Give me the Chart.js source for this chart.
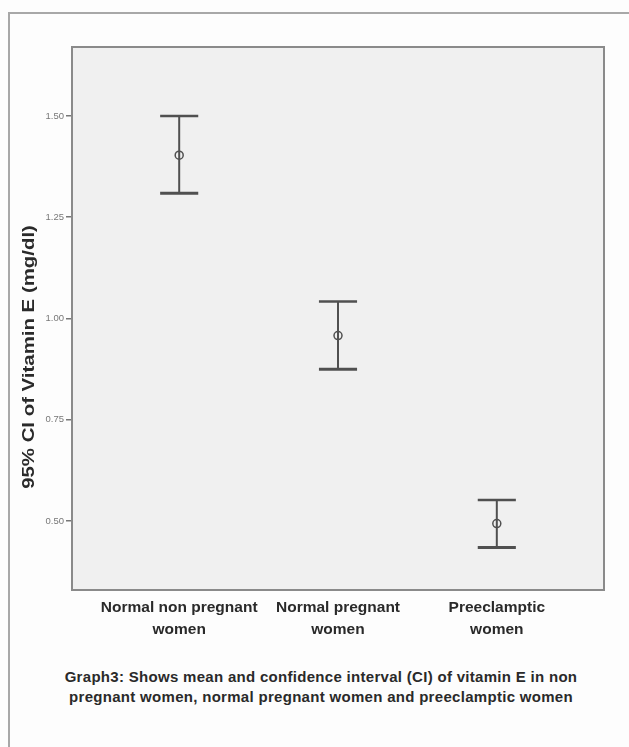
<!DOCTYPE html>
<html>
<head>
<meta charset="utf-8">
<script src="https://cdn.jsdelivr.net/npm/chart.js@4/dist/chart.umd.min.js"></script>
<style>
  html, body { margin: 0; padding: 0; background: #fdfdfd; width: 629px; height: 747px; overflow: hidden; }
  #frame { position: absolute; left: 8px; top: 12px; width: 640px; height: 760px;
           border-left: 2px solid #a8a8a8; border-top: 2px solid #a8a8a8; box-sizing: border-box; }
  #wrap { position: absolute; left: 0; top: 0; width: 629px; height: 650px; }
  #caption { position: absolute; left: 0; top: 667px; width: 642px; text-align: center;
             font-family: "Liberation Sans", Arial, sans-serif; font-weight: bold; font-size: 15px;
             line-height: 20px; color: #2a2a2a; letter-spacing: 0.3px; }
</style>
</head>
<body>
<div id="frame"></div>
<div id="wrap"><canvas id="c"></canvas></div>
<div id="caption">Graph3: Shows mean and confidence interval (CI) of vitamin E in non<br>pregnant women, normal pregnant women and preeclamptic women</div>
<script>
// ---- data ----
const categories = [["Normal non pregnant", "women"], ["Normal pregnant", "women"], ["Preeclamptic", "women"]];
const means = [1.403, 0.958, 0.494];
const lowerCI = [1.309, 0.875, 0.435];
const upperCI = [1.500, 1.042, 0.552];
const yTicks = [0.50, 0.75, 1.00, 1.25, 1.50];
const yTitle = "95% CI of Vitamin E (mg/dl)";

const barColor = "#505050";
const capHalf = 0.12;

const datasets = [];
categories.forEach((c, i) => {
  datasets.push({ data: [{x: i, y: lowerCI[i]}, {x: i, y: upperCI[i]}], showLine: true, borderColor: barColor, borderWidth: 2, pointRadius: 0 });
  datasets.push({ data: [{x: i - capHalf, y: upperCI[i]}, {x: i + capHalf, y: upperCI[i]}], showLine: true, borderColor: barColor, borderWidth: 2.5, pointRadius: 0 });
  datasets.push({ data: [{x: i - capHalf, y: lowerCI[i]}, {x: i + capHalf, y: lowerCI[i]}], showLine: true, borderColor: barColor, borderWidth: 3, pointRadius: 0 });
});
datasets.push({ data: means.map((m, i) => ({x: i, y: m})), showLine: false, pointRadius: 4, pointBorderWidth: 1.5,
  pointBorderColor: barColor, pointBackgroundColor: "#f0f0f0", pointStyle: "circle" });

const areaPlugin = {
  id: "area",
  beforeDatasetsDraw(chart) {
    const {ctx, chartArea: a} = chart;
    ctx.save();
    ctx.fillStyle = "#f0f0f0";
    ctx.fillRect(a.left, a.top, a.right - a.left, a.bottom - a.top);
    ctx.restore();
  },
  afterDraw(chart) {
    const {ctx, chartArea: a} = chart;
    ctx.save();
    ctx.strokeStyle = "#8a8a8a";
    ctx.lineWidth = 2;
    ctx.strokeRect(a.left, a.top, a.right - a.left, a.bottom - a.top);
    ctx.translate(29, 357);
    ctx.rotate(-Math.PI / 2);
    ctx.scale(1.2, 1);
    ctx.font = "bold 17px 'Liberation Sans', Arial, sans-serif";
    ctx.fillStyle = "#2a2a2a";
    ctx.textAlign = "center";
    ctx.textBaseline = "middle";
    ctx.fillText(yTitle, 0, 0);
    ctx.restore();
  }
};

new Chart(document.getElementById("c"), {
  type: "scatter",
  data: { datasets },
  plugins: [areaPlugin],
  options: {
    responsive: true,
    maintainAspectRatio: false,
    animation: false,
    layout: { padding: { top: 47, right: 25, left: 0, bottom: 0 } },
    plugins: { legend: { display: false }, tooltip: { enabled: false } },
    scales: {
      x: {
        type: "linear", min: -0.675, max: 2.675,
        afterBuildTicks: s => { s.ticks = categories.map((c, i) => ({value: i})); },
        afterFit: s => { s.height = 60; },
        border: { display: false },
        grid: { display: false, drawTicks: false },
        ticks: {
          callback: v => categories[v],
          color: "#2a2a2a", padding: 7, maxRotation: 0, autoSkip: false,
          font: { family: "'Liberation Sans', Arial, sans-serif", size: 15.5, weight: "bold", lineHeight: 1.4 }
        }
      },
      y: {
        min: 0.33, max: 1.67,
        afterBuildTicks: s => { s.ticks = yTicks.map(v => ({value: v})); },
        afterFit: s => { s.width = 72; },
        border: { display: false },
        grid: { drawOnChartArea: false, drawTicks: true, tickLength: 6, color: "#777", lineWidth: 1.5 },
        ticks: {
          callback: v => v.toFixed(2),
          color: "#777", padding: 2,
          font: { family: "'Liberation Sans', Arial, sans-serif", size: 9.5 }
        }
      }
    }
  }
});
</script>
</body>
</html>
